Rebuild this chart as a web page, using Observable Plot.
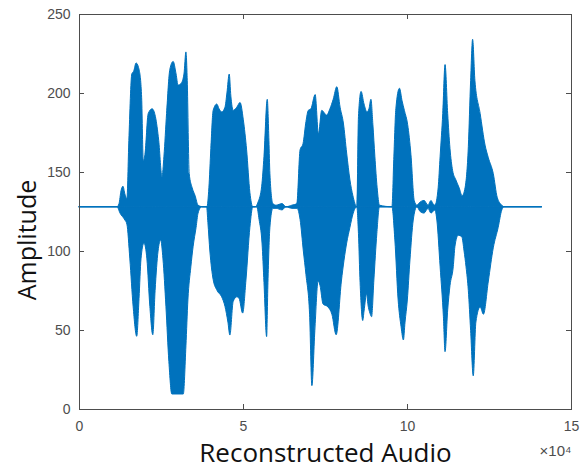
<!DOCTYPE html>
<html>
<head>
<meta charset="utf-8">
<script src="https://cdn.jsdelivr.net/npm/d3@7"></script>
<script src="https://cdn.jsdelivr.net/npm/@observablehq/plot@0.6"></script>
<style>
  html, body { margin: 0; padding: 0; background: #fff; }
</style>
</head>
<body>
<div id="chart"></div>
<script>
// Axis ticks
const xTicks = [0, 5, 10, 15];           // sample index, ×10^4
const yTicks = [0, 50, 100, 150, 200, 250];
const xLabel = "Reconstructed Audio";
const yLabel = "Amplitude";
const xExponent = "×10⁴";
const baseline = 128;                    // silent level of the 8‑bit audio

// Upper envelope of the waveform (x in units of 10^4 samples)
const upperX = [0, 1.16, 1.22, 1.28, 1.34, 1.40, 1.46, 1.52, 1.61, 1.67, 1.74, 1.84, 1.91, 1.96, 2.01, 2.11, 2.23, 2.33, 2.43, 2.53, 2.59, 2.67, 2.77, 2.87, 2.96, 3.02, 3.11, 3.20, 3.26, 3.30, 3.36, 3.45, 3.54, 3.63, 3.78,
  3.90, 3.96, 4.02, 4.09, 4.20, 4.27, 4.35, 4.45, 4.51, 4.58, 4.63, 4.70, 4.81, 4.91, 5.01, 5.11, 5.21, 5.30,
  5.37, 5.46, 5.57, 5.64, 5.74, 5.79, 5.82, 5.91, 6.01, 6.19, 6.31, 6.49, 6.64,
  6.74, 6.83, 6.92, 6.99, 7.07, 7.20, 7.30, 7.40, 7.55, 7.65, 7.75, 7.86, 7.96, 8.06, 8.16, 8.26, 8.35, 8.47,
  8.52, 8.60, 8.69, 8.78, 8.84, 8.90, 8.96, 9.02, 9.09, 9.16, 9.54,
  9.60, 9.66, 9.77, 9.85, 9.92, 10.02, 10.12, 10.22, 10.30, 10.40, 10.52, 10.64, 10.73, 10.79, 10.85,
  10.95, 11.01, 11.09, 11.16, 11.24, 11.31, 11.39, 11.49, 11.59, 11.68, 11.77, 11.87, 11.94, 12.00, 12.07, 12.23, 12.38, 12.48, 12.63, 12.75, 12.89, 12.96, 14.11];
const upperY = [128, 128, 130, 138, 141, 136, 133, 170, 212, 214, 219, 214, 197, 157, 161, 187, 190, 185, 170, 147, 160, 187, 215, 220, 212, 205, 206, 212, 226, 208, 149, 140, 135, 129, 128,
  128, 140, 165, 189, 193, 190, 188, 191, 200, 212, 198, 189, 191, 194, 183, 164, 137, 128,
  128, 131, 141, 160, 196, 170, 149, 130, 129, 130, 128, 129, 130,
  164, 168, 182, 189, 190, 199, 174, 189, 186, 190, 196, 204, 191, 181, 162, 145, 135, 128,
  185, 201, 193, 188, 190, 196, 180, 160, 140, 129, 128,
  160, 190, 203, 195, 189, 180, 161, 132, 129, 131, 132, 129, 132, 130, 129,
  140, 160, 187, 218, 187, 165, 151, 145, 140, 135, 140, 166, 208, 234, 208, 187, 167, 159, 149, 134, 129, 128, 128];

// Lower envelope of the waveform
const lowerX = [0, 1.16, 1.25, 1.40, 1.46, 1.55, 1.65, 1.76, 1.83, 1.89, 1.98, 2.07, 2.16, 2.25, 2.32, 2.41, 2.49, 2.56, 2.65, 2.74, 2.83, 3.18, 3.26, 3.32, 3.41, 3.48, 3.57, 3.63, 3.74,
  3.89, 3.93, 3.99, 4.09, 4.21, 4.35, 4.45, 4.54, 4.60, 4.70, 4.81, 4.88, 4.99, 5.09, 5.21, 5.30,
  5.42, 5.49, 5.58, 5.64, 5.72, 5.76, 5.82, 5.91, 6.01, 6.19, 6.31, 6.49, 6.65,
  6.74, 6.84, 6.92, 7.03, 7.10, 7.19, 7.29, 7.35, 7.44, 7.59, 7.71, 7.84, 8.00, 8.16, 8.26, 8.36, 8.47,
  8.52, 8.57, 8.65, 8.69, 8.77, 8.81, 8.87, 8.92, 8.99, 9.08, 9.16, 9.54,
  9.63, 9.73, 9.82, 9.89, 9.94, 10.01, 10.09, 10.19, 10.30, 10.40, 10.52, 10.64, 10.73, 10.85,
  10.91, 11.01, 11.11, 11.16, 11.24, 11.31, 11.41, 11.46, 11.56, 11.67, 11.74, 11.80, 11.87, 11.94, 12.02, 12.10, 12.23, 12.33, 12.48, 12.63, 12.78, 12.89, 12.96, 14.11];
const lowerY = [128, 128, 124, 119.6, 117, 95, 65, 46, 70, 95, 105, 95, 65, 47, 75, 100, 107, 95, 65, 30, 9.5, 9.5, 40, 69, 90, 103, 115, 124, 128,
  128, 118, 100, 82, 75, 71, 65, 55, 46.8, 68, 71, 70, 60.7, 81.6, 115, 128,
  128, 120, 105, 80, 45.8, 80, 115, 127, 127, 126, 128, 127, 127,
  120, 100, 85, 60, 14.8, 49.6, 81, 78, 66.5, 64.6, 60, 47, 81, 105, 115, 124, 128,
  111, 80, 56, 62, 73, 66, 60.7, 58.4, 81.6, 111, 128, 128,
  107, 69, 52, 43.7, 55, 69, 94.3, 119.6, 128, 125, 124, 127, 124, 126,
  119.6, 90, 58.4, 36.3, 62.7, 78, 90, 102.7, 110, 109, 100, 90, 75, 49.6, 21, 55, 64.6, 60, 81, 102, 115, 126, 128, 128];

const upper = upperX.map((x, i) => ({x, y: upperY[i]}));
const lower = lowerX.map((x, i) => ({x, y: lowerY[i]}));

const blue = "#0072BD";
const axisGray = "#4d4d4d";

const chart = Plot.plot({
  width: 586,
  height: 469,
  marginLeft: 79,
  marginRight: 15,
  marginTop: 14,
  marginBottom: 60,
  style: {fontFamily: "'Liberation Sans', Arial, sans-serif", fontSize: "14px", color: axisGray, background: "#fff"},
  x: {domain: [0, 15], ticks: xTicks, tickSize: 0, tickPadding: 12, label: null},
  y: {domain: [0, 250], ticks: yTicks, tickSize: 0, tickPadding: 9, label: null},
  marks: [
    Plot.areaY(upper, {x: "x", y1: () => baseline, y2: "y", fill: blue, stroke: blue, strokeWidth: 1, curve: "monotone-x"}),
    Plot.areaY(lower, {x: "x", y1: "y", y2: () => baseline, fill: blue, stroke: blue, strokeWidth: 1, curve: "monotone-x"}),
    // inward tick marks on all four sides
    Plot.ruleX(xTicks, {x: d => d, stroke: axisGray, insetTop: 390}),
    Plot.ruleX(xTicks, {x: d => d, stroke: axisGray, insetBottom: 390}),
    Plot.ruleY(yTicks, {y: d => d, stroke: axisGray, insetRight: 487}),
    Plot.ruleY(yTicks, {y: d => d, stroke: axisGray, insetLeft: 487}),
    Plot.frame({stroke: axisGray, strokeWidth: 1}),
    Plot.text([xLabel], {text: d => d, frameAnchor: "bottom", lineAnchor: "middle", textAnchor: "middle", dy: 44, fontSize: 26, fontFamily: "'Open Sans', sans-serif", fill: "#111"}),
    Plot.text([yLabel], {text: d => d, frameAnchor: "left", textAnchor: "middle", lineAnchor: "middle", rotate: -90, dx: -52, dy: 28, fontSize: 25, fontFamily: "'Open Sans', sans-serif", fill: "#111"}),
    Plot.text([xExponent], {text: d => d, frameAnchor: "bottom-right", textAnchor: "end", lineAnchor: "middle", dx: 0, dy: 42, fontSize: 15, fill: axisGray})
  ]
});
document.getElementById("chart").appendChild(chart);
</script>
</body>
</html>
